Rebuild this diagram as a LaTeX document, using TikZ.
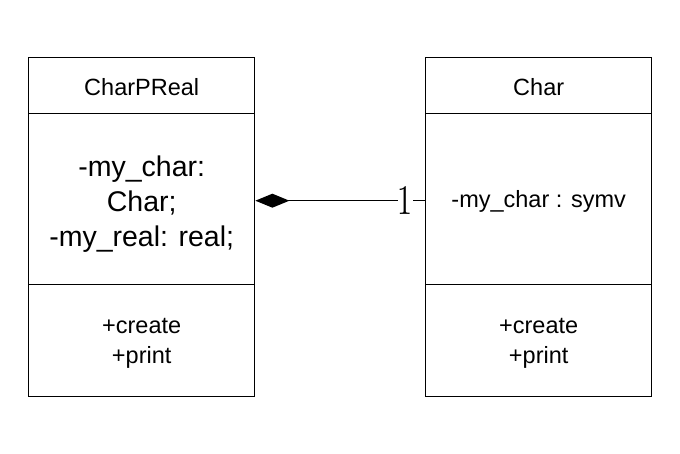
\documentclass[tikz,border=0pt]{standalone}
\usepackage{fontspec}
\setmainfont{Liberation Sans}
\usetikzlibrary{arrows.meta}
\begin{document}
\begin{tikzpicture}[x=1pt,y=-1pt,
  comp/.style={draw,line width=1.4pt,minimum width=226pt,inner sep=0pt,anchor=north west},
  txt/.style={align=center,inner sep=0pt,font=\fontsize{23.5}{30}\selectfont},
  bigtxt/.style={align=center,inner sep=0pt,font=\fontsize{28.5}{35}\selectfont},
  assoc/.style={line width=1.3pt,{Diamond[length=34pt,width=14pt]}-},
  mult/.style={fill=white,inner xsep=0pt,inner ysep=1pt}]
\useasboundingbox (0,0) rectangle (680,454);
% left class
\node[comp,minimum height=56pt] (lname) at (28,57) {};
\node[comp,minimum height=171pt] (lattr) at (28,113) {};
\node[comp,minimum height=112pt] (lops) at (28,284) {};
\node[txt] (lnametxt) at ([yshift=-1pt]lname.center) {CharPReal};
\node[bigtxt] (lattrtxt) at ([yshift=-5pt]lattr.center) {-my\_char:\\Char;\\-my\_real: real;};
\node[txt] (lopstxt) at ([yshift=-2.5pt]lops.center) {+create\\+print};
% right class
\node[comp,minimum height=56pt] (rname) at (425,57) {};
\node[comp,minimum height=171pt] (rattr) at (425,113) {};
\node[comp,minimum height=112pt] (rops) at (425,284) {};
\node[txt] (rnametxt) at ([yshift=-1pt]rname.center) {Char};
\node[txt] (rattrtxt) at ([yshift=-2pt]rattr.center) {-my\_char : symv};
\node[txt] (ropstxt) at ([yshift=-2.5pt]rops.center) {+create\\+print};
% association
\draw[assoc] ([yshift=-1.5pt]lattr.east) -- node[mult,pos=0.885] (m1) {\resizebox{15pt}{28pt}{\fontfamily{lmr}\selectfont 1}} ([yshift=-1.5pt]rattr.west);
\end{tikzpicture}
\end{document}
